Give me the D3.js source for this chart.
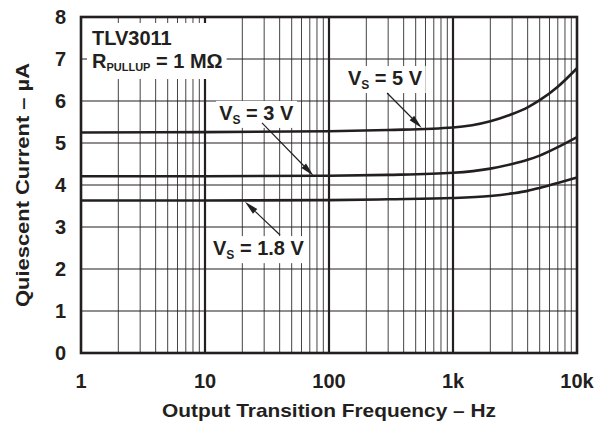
<!DOCTYPE html>
<html>
<head>
<meta charset="utf-8">
<script src="https://cdn.jsdelivr.net/npm/d3@7"></script>
<style>
  body { margin: 0; background: #fff; }
  svg text { font-family: "Liberation Sans", Arial, sans-serif; font-weight: bold; fill: #231f20; }
</style>
</head>
<body>
<svg id="svg" width="608" height="423"></svg>
<script>
// frequency points (Hz) and quiescent current (uA) for each supply
const freq = [1, 10, 100, 300, 1000, 2000, 3000, 4000, 5000, 7000, 10000];
const vs5  = [5.25, 5.26, 5.28, 5.31, 5.37, 5.52, 5.69, 5.85, 6.02, 6.34, 6.78];
const vs3  = [4.21, 4.21, 4.22, 4.24, 4.29, 4.39, 4.50, 4.60, 4.70, 4.90, 5.14];
const vs18 = [3.63, 3.63, 3.64, 3.66, 3.69, 3.74, 3.80, 3.86, 3.93, 4.05, 4.18];

const xTicks = [1, 10, 100, 1000, 10000];
const xTickLabels = ["1", "10", "100", "1k", "10k"];
const yTicks = [0, 1, 2, 3, 4, 5, 6, 7, 8];

// callouts: label, anchor for text (freq, uA), arrow tail and tip
const callouts = [
  {main: "V", sub: "S", rest: " = 5 V",   at: [142, 6.38], from: [294, 6.19], to: [560, 5.36]},
  {main: "V", sub: "S", rest: " = 3 V",   at: [13, 5.55],  from: [28.8, 5.48], to: [75, 4.22]},
  {main: "V", sub: "S", rest: " = 1.8 V", at: [11.6, 2.33], from: [40.3, 2.81], to: [21, 3.60]}
];

const margin = {top: 17, right: 31, bottom: 70, left: 81};
const width = 608 - margin.left - margin.right;
const height = 423 - margin.top - margin.bottom;
const ink = "#231f20";

const svg = d3.select("#svg");
const g = svg.append("g").attr("transform", "translate(" + margin.left + "," + margin.top + ")");

const x = d3.scaleLog().domain([1, 10000]).range([0, width]);
const y = d3.scaleLinear().domain([0, 8]).range([height, 0]);

// minor vertical grid
const minor = [];
for (let d = 1; d < 10000; d *= 10)
  for (let m = 2; m <= 9; m++) minor.push(d * m);
g.selectAll(".minor").data(minor).enter().append("line")
  .attr("x1", d => x(d)).attr("x2", d => x(d))
  .attr("y1", 0).attr("y2", height)
  .attr("stroke", "#444").attr("stroke-width", 1);

// horizontal grid
g.selectAll(".hgrid").data(yTicks.slice(1, -1)).enter().append("line")
  .attr("x1", 0).attr("x2", width)
  .attr("y1", d => y(d)).attr("y2", d => y(d))
  .attr("stroke", ink).attr("stroke-width", 1.2);

// decade lines
g.selectAll(".major").data(xTicks.slice(1, -1)).enter().append("line")
  .attr("x1", d => x(d)).attr("x2", d => x(d))
  .attr("y1", 0).attr("y2", height)
  .attr("stroke", ink).attr("stroke-width", 2.2);

// label boxes (white backgrounds)
const boxLayer = g.append("g");

// title block
const title = g.append("g");
title.append("text").attr("x", 11).attr("y", 28).attr("font-size", 20).text("TLV3011");
const rText = title.append("text").attr("x", 11).attr("y", 51).attr("font-size", 20);
rText.append("tspan").text("R");
rText.append("tspan").attr("font-size", 11).attr("dy", 3).text("PULLUP");
rText.append("tspan").attr("dy", -3).text(" = 1 M\u03A9");

// curves
const line = d3.line().x(d => x(d[0])).y(d => y(d[1])).curve(d3.curveMonotoneX);
[vs5, vs3, vs18].forEach(s => {
  g.append("path").datum(freq.map((f, i) => [f, s[i]]))
    .attr("d", line).attr("fill", "none")
    .attr("stroke", ink).attr("stroke-width", 2.6);
});

// callouts
callouts.forEach(c => {
  const t = g.append("text").attr("x", x(c.at[0])).attr("y", y(c.at[1])).attr("font-size", 20);
  t.append("tspan").text(c.main);
  t.append("tspan").attr("font-size", 12).attr("dy", 4).text(c.sub);
  t.append("tspan").attr("dy", -4).text(c.rest);
  const bb = t.node().getBBox();
  boxLayer.append("rect").attr("x", bb.x - 3).attr("y", bb.y - 1)
    .attr("width", bb.width + 6).attr("height", bb.height + 2).attr("fill", "#fff");

  const x0 = x(c.from[0]), y0 = y(c.from[1]), x1 = x(c.to[0]), y1 = y(c.to[1]);
  const ang = Math.atan2(y1 - y0, x1 - x0);
  const len = 14, half = 3.2;
  const bx = x1 - len * Math.cos(ang), by = y1 - len * Math.sin(ang);
  g.append("line").attr("x1", x0).attr("y1", y0).attr("x2", bx).attr("y2", by)
    .attr("stroke", ink).attr("stroke-width", 1.2);
  g.append("path")
    .attr("d", "M" + x1 + "," + y1 +
      "L" + (bx + half * Math.sin(ang)) + "," + (by - half * Math.cos(ang)) +
      "L" + (bx - half * Math.sin(ang)) + "," + (by + half * Math.cos(ang)) + "Z")
    .attr("fill", ink);
});

// title box background
const tb = title.node().getBBox();
boxLayer.append("rect").attr("x", tb.x - 5).attr("y", tb.y - 4)
  .attr("width", tb.width + 9).attr("height", tb.height + 10).attr("fill", "#fff");

// frame
g.append("rect").attr("width", width).attr("height", height)
  .attr("fill", "none").attr("stroke", ink).attr("stroke-width", 2.6);

// axes tick labels
g.selectAll(".xl").data(xTicks).enter().append("text")
  .attr("x", d => x(d)).attr("y", height + 35)
  .attr("text-anchor", "middle").attr("font-size", 20)
  .text((d, i) => xTickLabels[i]);
g.selectAll(".yl").data(yTicks).enter().append("text")
  .attr("x", -15).attr("y", d => y(d)).attr("dy", "0.36em")
  .attr("text-anchor", "end").attr("font-size", 20)
  .text(d => d);

// axis titles
g.append("text").attr("x", width / 2).attr("y", height + 64)
  .attr("text-anchor", "middle").attr("font-size", 19)
  .attr("textLength", 334).attr("lengthAdjust", "spacingAndGlyphs")
  .text("Output Transition Frequency \u2013 Hz");
g.append("text")
  .attr("transform", "translate(-52," + (height / 2) + ") rotate(-90)")
  .attr("text-anchor", "middle").attr("font-size", 19)
  .attr("textLength", 244).attr("lengthAdjust", "spacingAndGlyphs")
  .text("Quiescent Current \u2013 \u00B5A");
</script>
</body>
</html>
